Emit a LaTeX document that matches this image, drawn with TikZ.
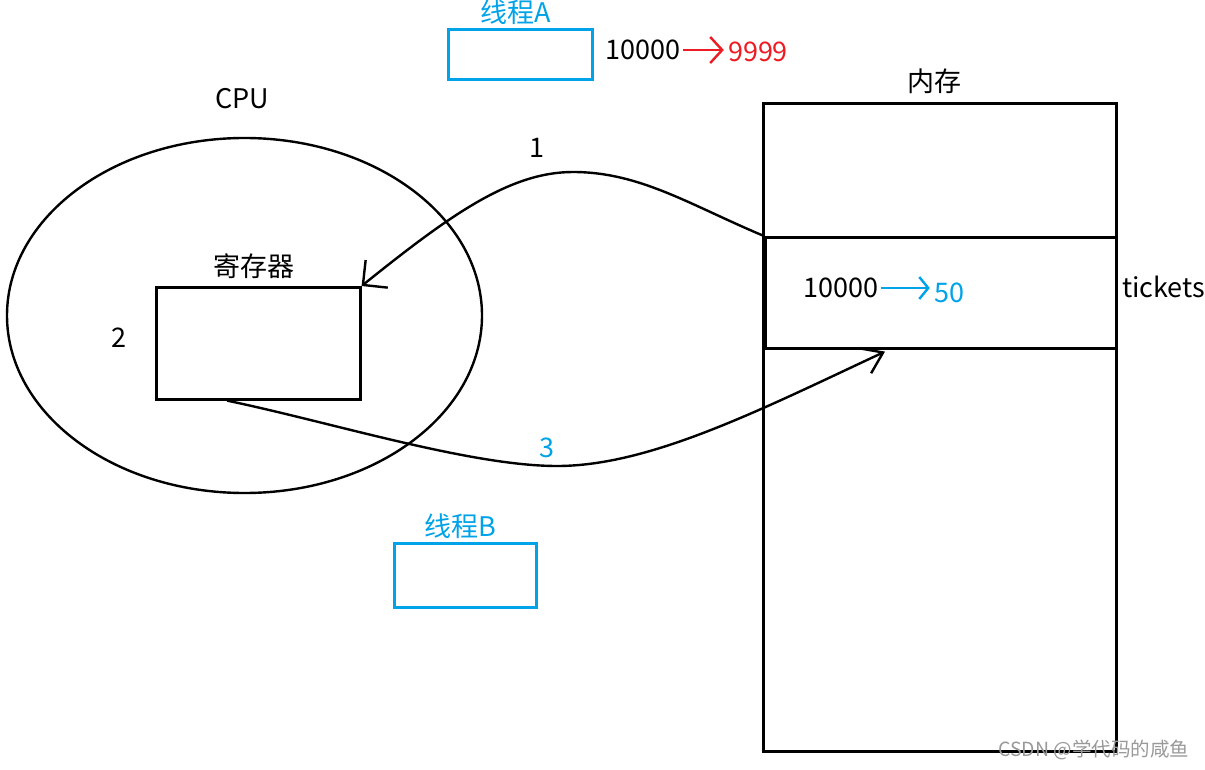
\documentclass[tikz,border=0pt]{standalone}
\usepackage{fontspec}
\setmainfont{Noto Sans CJK SC}
\usetikzlibrary{arrows.meta}
\usetikzlibrary{positioning}
\usetikzlibrary{shapes}
\definecolor{paintblue}{RGB}{0,162,232}
\definecolor{paintred}{RGB}{237,28,36}

\begin{document}
\begin{tikzpicture}
    [%
        x=1pt,y=-1pt,%
        every node/.style={%
            inner sep=0pt,%
            font=\fontsize{27}{27}\selectfont%
        },%
        box/.style={%
            draw,%
            line width=2.6pt,%
            anchor=north west%
        },%
        thread box/.style={%
            box,%
            draw=paintblue,%
            line width=3.4pt%
        },%
        flow/.style={%
            line width=2.4pt,%
            -{Straight Barb[angle=#1]}%
        },%
        flow/.default={80:24pt},%
        value arrow/.style={%
            line width=2.4pt,%
            shorten <=2pt,%
            shorten >=4pt,%
            -{Straight Barb[length=12pt,width=26pt]}%
        }%
    ]%
%
    \useasboundingbox (0,0) rectangle (1205,770);
%
    % CPU and its register
    \node[draw,ellipse,line width=2.4pt,minimum width=475pt,minimum height=355pt]
        (cpu) at (244.5,315.5) {};
    \node (cpu-label) at (242,99) {CPU};
    \node[box,minimum width=204pt,minimum height=112pt] (reg) at (155,286) {};
    \node[above=7pt of reg,xshift=-4pt] (reg-label) {寄存器};
    \node (step-2) at (119,338) {2};
%
    % memory with the tickets row
    \node[box,minimum width=353pt,minimum height=648pt] (mem) at (762,102) {};
    \node[above=8pt of mem,xshift=-5pt] (mem-label) {内存};
    \node[box,minimum width=351pt,minimum height=111pt] (row) at (764,236) {};
    \node (row-old) at (841,288) {10000};
    \node[text=paintblue] (row-new) at (949,293) {50};
    \draw[value arrow,paintblue,-{Straight Barb[length=9pt,width=22pt]}]
        (row-old.east) -- (row-old.east -| row-new.west);
    \node[anchor=west] (tickets) at (1122,287) {tickets};
%
    % the two threads
    % \thr thread name
    % \x/\y/\w/\h box corner and size
    \foreach \thr/\x/\y/\w/\h in {%
        A/447/28/144/50,%
        B/393/542/142/64%
    }{
        \node[thread box,minimum width=\w pt,minimum height=\h pt]
            (thread-\thr) at (\x,\y) {};
        \node[text=paintblue,above=3pt of thread-\thr,xshift=-5pt]
            (thread-\thr-label) {线程\thr};
    } % \foreach \thr
    \node (a-old) at (643,50) {10000};
    \node[text=paintred] (a-new) at (758,52) {9999};
    \draw[value arrow,paintred] (a-old.east) -- (a-old.east -| a-new.west);
%
    % 1: load from memory into the register
    \draw[flow=90:25pt] (row.north west)
        .. controls (690,205) and (640,172) .. (573,172)
        .. controls (510,172) and (450,215) .. (reg.north east);
    \node (step-1) at (537,148) {1};
%
    % 3: write back to memory
    \draw[flow=70:24pt] ([xshift=72pt]reg.south west)
        .. controls (330,422) and (470,466) .. (557,466)
        .. controls (650,466) and (760,410) .. ([xshift=121pt,yshift=-2pt]row.south west);
    \node[text=paintblue] (step-3) at (547,448) {3};
%
    \node[anchor=west,text=black!40,font=\fontsize{19.5}{19.5}\selectfont]
        (mark) at (998,750) {CSDN @学代码的咸鱼};
\end{tikzpicture}
\end{document}
